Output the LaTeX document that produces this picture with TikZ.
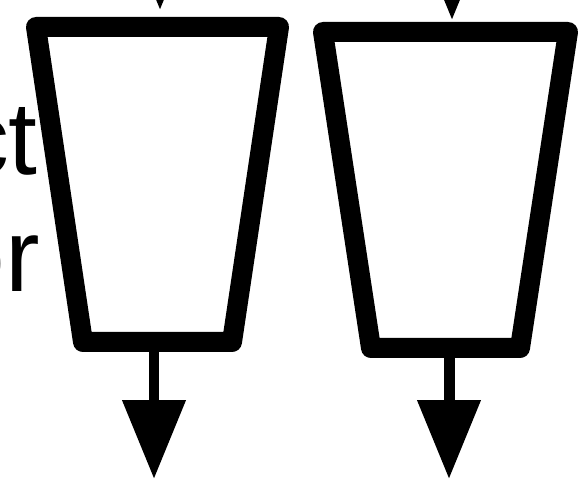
\documentclass[tikz,border=0pt]{standalone}
\usepackage{fontspec}
\setmainfont{Liberation Sans}
\usetikzlibrary{
  arrows.meta,
  positioning,
  calc
}
\definecolor{fnInk}{HTML}{000000}
\tikzset{
  funnel/.style={draw=fnInk, fill=white, line width=0.4cm, line join=round},
  feed/.style={-{Triangle[length=1.58cm, width=1.22cm]}, line width=0.22cm, fnInk},
  cuttext/.style={font=\fontsize{59}{66}\selectfont, inner sep=0pt, anchor=base east}
}

\begin{document}
\begin{tikzpicture}[x=0.02cm, y=-0.02cm]
  \useasboundingbox (0,0) rectangle (579,479);
  % text clipped at the left edge
  \node[cuttext] (txtct) at (38,175) {ct};
  \node[cuttext] (txtor) at (40,292) {or};
  % left funnel
  \draw[funnel] (36,27) coordinate (funAnw) -- (279,27) coordinate (funAne)
    -- (232,342) coordinate (funAse) -- (83,342) coordinate (funAsw) -- cycle;
  % right funnel
  \draw[funnel] (323,32) coordinate (funBnw) -- (568,32) coordinate (funBne)
    -- (520,348) coordinate (funBse) -- (371,348) coordinate (funBsw) -- cycle;
  % inputs from above
  \coordinate (inA) at (160,-120);
  \coordinate (inB) at (452,-120);
  \draw[feed] (inA) -- ([yshift=0.34cm]inA |- funAnw);
  \draw[feed] (inB) -- ([yshift=0.24cm]inB |- funBnw);
  % outputs below
  \coordinate (outA) at (154,479);
  \coordinate (outB) at (449,479);
  \draw[feed] (outA |- funAsw) -- (outA);
  \draw[feed] (outB |- funBsw) -- (outB);
\end{tikzpicture}
\end{document}
